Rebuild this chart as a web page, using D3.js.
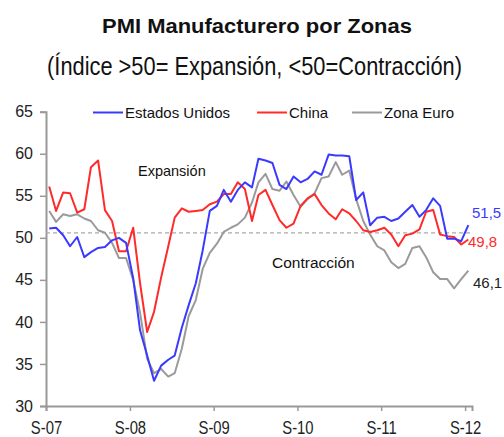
<!DOCTYPE html>
<html><head><meta charset="utf-8">
<script src="https://cdn.jsdelivr.net/npm/d3@7"></script>
<style>
body{margin:0;background:#fff}
svg{display:block}
text{font-family:"Liberation Sans", Arial, sans-serif}
</style>
</head><body>
<svg id="chart" width="504" height="437"></svg>
<script>
// ---- data ----
const startMonth = new Date(2007, 8, 1);   // Sep 2007
const endMonth   = new Date(2012, 9, 1);   // Oct 2012 (axis end)
const months = d3.timeMonth.range(startMonth, endMonth); // Sep-07 .. Sep-12 (61)

const seriesNames = ["Estados Unidos", "China", "Zona Euro"];
const seriesColors = ["#3a3aff", "#ff2a2a", "#9a9a9a"];

const usValues = [
  51.1, 51.2, 50.3, 49.0, 50.1, 47.7, 48.3, 48.8, 48.9, 49.7, 50.0, 49.4,
  45.2, 39.0, 36.0, 33.0, 34.8, 35.5, 36.0, 39.3, 42.0, 44.6, 48.5, 53.2,
  53.8, 55.7, 54.3, 55.7, 56.6, 56.0, 59.4, 59.2, 58.9, 56.3, 55.8, 57.3,
  56.6, 57.0, 57.9, 57.5, 59.9, 59.8, 59.8, 59.7, 54.5, 55.4, 51.5, 52.4,
  52.5, 52.0, 52.3, 53.1, 53.9, 52.5, 53.3, 54.7, 53.8, 49.9, 49.9, 49.6,
  51.5
];
const chinaValues = [
  56.1, 53.2, 55.4, 55.3, 53.0, 53.4, 58.4, 59.2, 53.3, 52.0, 48.4, 48.4,
  51.2, 44.6, 38.8, 41.2, 45.3, 49.0, 52.4, 53.5, 53.1, 53.2, 53.3, 54.0,
  54.3, 55.2, 55.2, 56.6, 55.8, 52.0, 55.1, 55.7, 53.9, 52.1, 51.2, 51.7,
  53.8, 54.7, 55.2, 53.9, 52.9, 52.2, 53.4, 52.9, 52.0, 50.9, 50.7, 50.9,
  51.2, 50.4, 49.0, 50.3, 50.5, 51.0, 53.1, 53.3, 50.4, 50.2, 50.1, 49.2,
  49.8
];
const euroValues = [
  53.2, 51.9, 52.8, 52.6, 52.8, 52.3, 52.0, 50.9, 50.6, 49.4, 47.6, 47.6,
  45.0, 41.1, 35.6, 33.9, 34.4, 33.5, 33.9, 36.8, 40.7, 42.6, 46.3, 48.2,
  49.3, 50.7, 51.2, 51.6, 52.4, 54.2, 56.6, 57.6, 55.8, 55.6, 56.7, 55.1,
  53.7, 54.6, 55.3, 57.1, 57.3, 59.0, 57.5, 58.0, 54.6, 52.0, 50.4, 49.0,
  48.5, 47.1, 46.4, 46.9, 48.8, 49.0, 47.7, 45.9, 45.1, 45.1, 44.0, 45.1,
  46.1
];
const yTicks = [30, 35, 40, 45, 50, 55, 60, 65];
const xTickLabels = ["S-07", "S-08", "S-09", "S-10", "S-11", "S-12"];
const referenceLevel = 50.6;
const endLabels = ["51,5", "49,8", "46,1"];

// ---- layout ----
const svg = d3.select("#chart");
const x = d3.scaleTime().domain([startMonth, endMonth]).range([46, 472]);
const y = d3.scaleLinear().domain([30, 65]).range([406, 111.7]);
const midMonth = d => d3.timeDay.offset(d, 14);

function fittedText(str, cx, cy, size, weight, target) {
  const t = svg.append("text").attr("text-anchor", "middle")
    .attr("font-size", size).attr("font-weight", weight).attr("fill", "#111").text(str);
  const w = t.node().getComputedTextLength();
  t.attr("transform", `translate(${cx},${cy}) scale(${target / w},1)`);
  return t;
}
// titles
fittedText("PMI Manufacturero por Zonas", 257, 33, 20, "bold", 310);
fittedText("(Índice >50= Expansión, <50=Contracción)", 254.5, 75, 26, "normal", 415);

// y axis
const yAxis = svg.append("g").attr("transform", "translate(46,0)")
  .call(d3.axisLeft(y).tickValues(yTicks).tickSize(6).tickPadding(7).tickFormat(d3.format("d")));
yAxis.select(".domain").attr("stroke", "#999").attr("stroke-width", 2);
yAxis.selectAll(".tick line").attr("stroke", "#999").attr("stroke-width", 1.5);
yAxis.selectAll(".tick text").attr("font-size", 16).attr("fill", "#222")
  .attr("font-family", "'Liberation Sans', Arial, sans-serif");

// x axis
const xTickDates = xTickLabels.map((_, i) => d3.timeYear.offset(startMonth, i));
const xAxis = svg.append("g").attr("transform", "translate(0,406)")
  .call(d3.axisBottom(x).tickValues(xTickDates).tickSize(5).tickPadding(9.5)
    .tickFormat((d, i) => xTickLabels[i]));
xAxis.select(".domain").attr("stroke", "#999").attr("stroke-width", 2);
xAxis.selectAll(".tick line").attr("stroke", "#999").attr("stroke-width", 1.5);
xAxis.selectAll(".tick text").attr("font-size", 19).attr("fill", "#222")
  .attr("transform", "scale(0.78,1)")
  .attr("font-family", "'Liberation Sans', Arial, sans-serif");

// reference dashed line
svg.append("line").attr("x1", x(startMonth)).attr("x2", x(endMonth) - 2)
  .attr("y1", y(referenceLevel)).attr("y2", y(referenceLevel))
  .attr("stroke", "#aaa").attr("stroke-width", 1.2).attr("stroke-dasharray", "4,3");

// series
const allSeries = [usValues, chinaValues, euroValues];
const line = d3.line().x((d, i) => x(midMonth(months[i]))).y(d => y(d));
[2, 1, 0].forEach(k => {
  svg.append("path").datum(allSeries[k]).attr("d", line)
    .attr("fill", "none").attr("stroke", seriesColors[k]).attr("stroke-width", 2)
    .attr("stroke-linejoin", "round");
});

// annotations
svg.append("text").attr("x", 138).attr("y", 176).attr("font-size", 14.5).attr("fill", "#111")
  .text("Expansión");
svg.append("text").attr("x", 272).attr("y", 268).attr("font-size", 15.5).attr("fill", "#111")
  .text("Contracción");

// end labels
const endColors = ["#3a3aff", "#ff2a2a", "#222"];
const endY = [218, 247, 288];
const endX = [472, 468, 473];
endLabels.forEach((t, k) => {
  svg.append("text").attr("x", endX[k]).attr("y", endY[k]).attr("font-size", 15)
    .attr("fill", endColors[k]).text(t);
});

// legend
const legendX = [93, 257, 352];
seriesNames.forEach((n, k) => {
  svg.append("line").attr("x1", legendX[k]).attr("x2", legendX[k] + 30)
    .attr("y1", 112.5).attr("y2", 112.5).attr("stroke", seriesColors[k]).attr("stroke-width", 2);
  svg.append("text").attr("x", legendX[k] + 32).attr("y", 118).attr("font-size", 15)
    .attr("fill", "#111").text(n);
});
</script>
</body></html>
